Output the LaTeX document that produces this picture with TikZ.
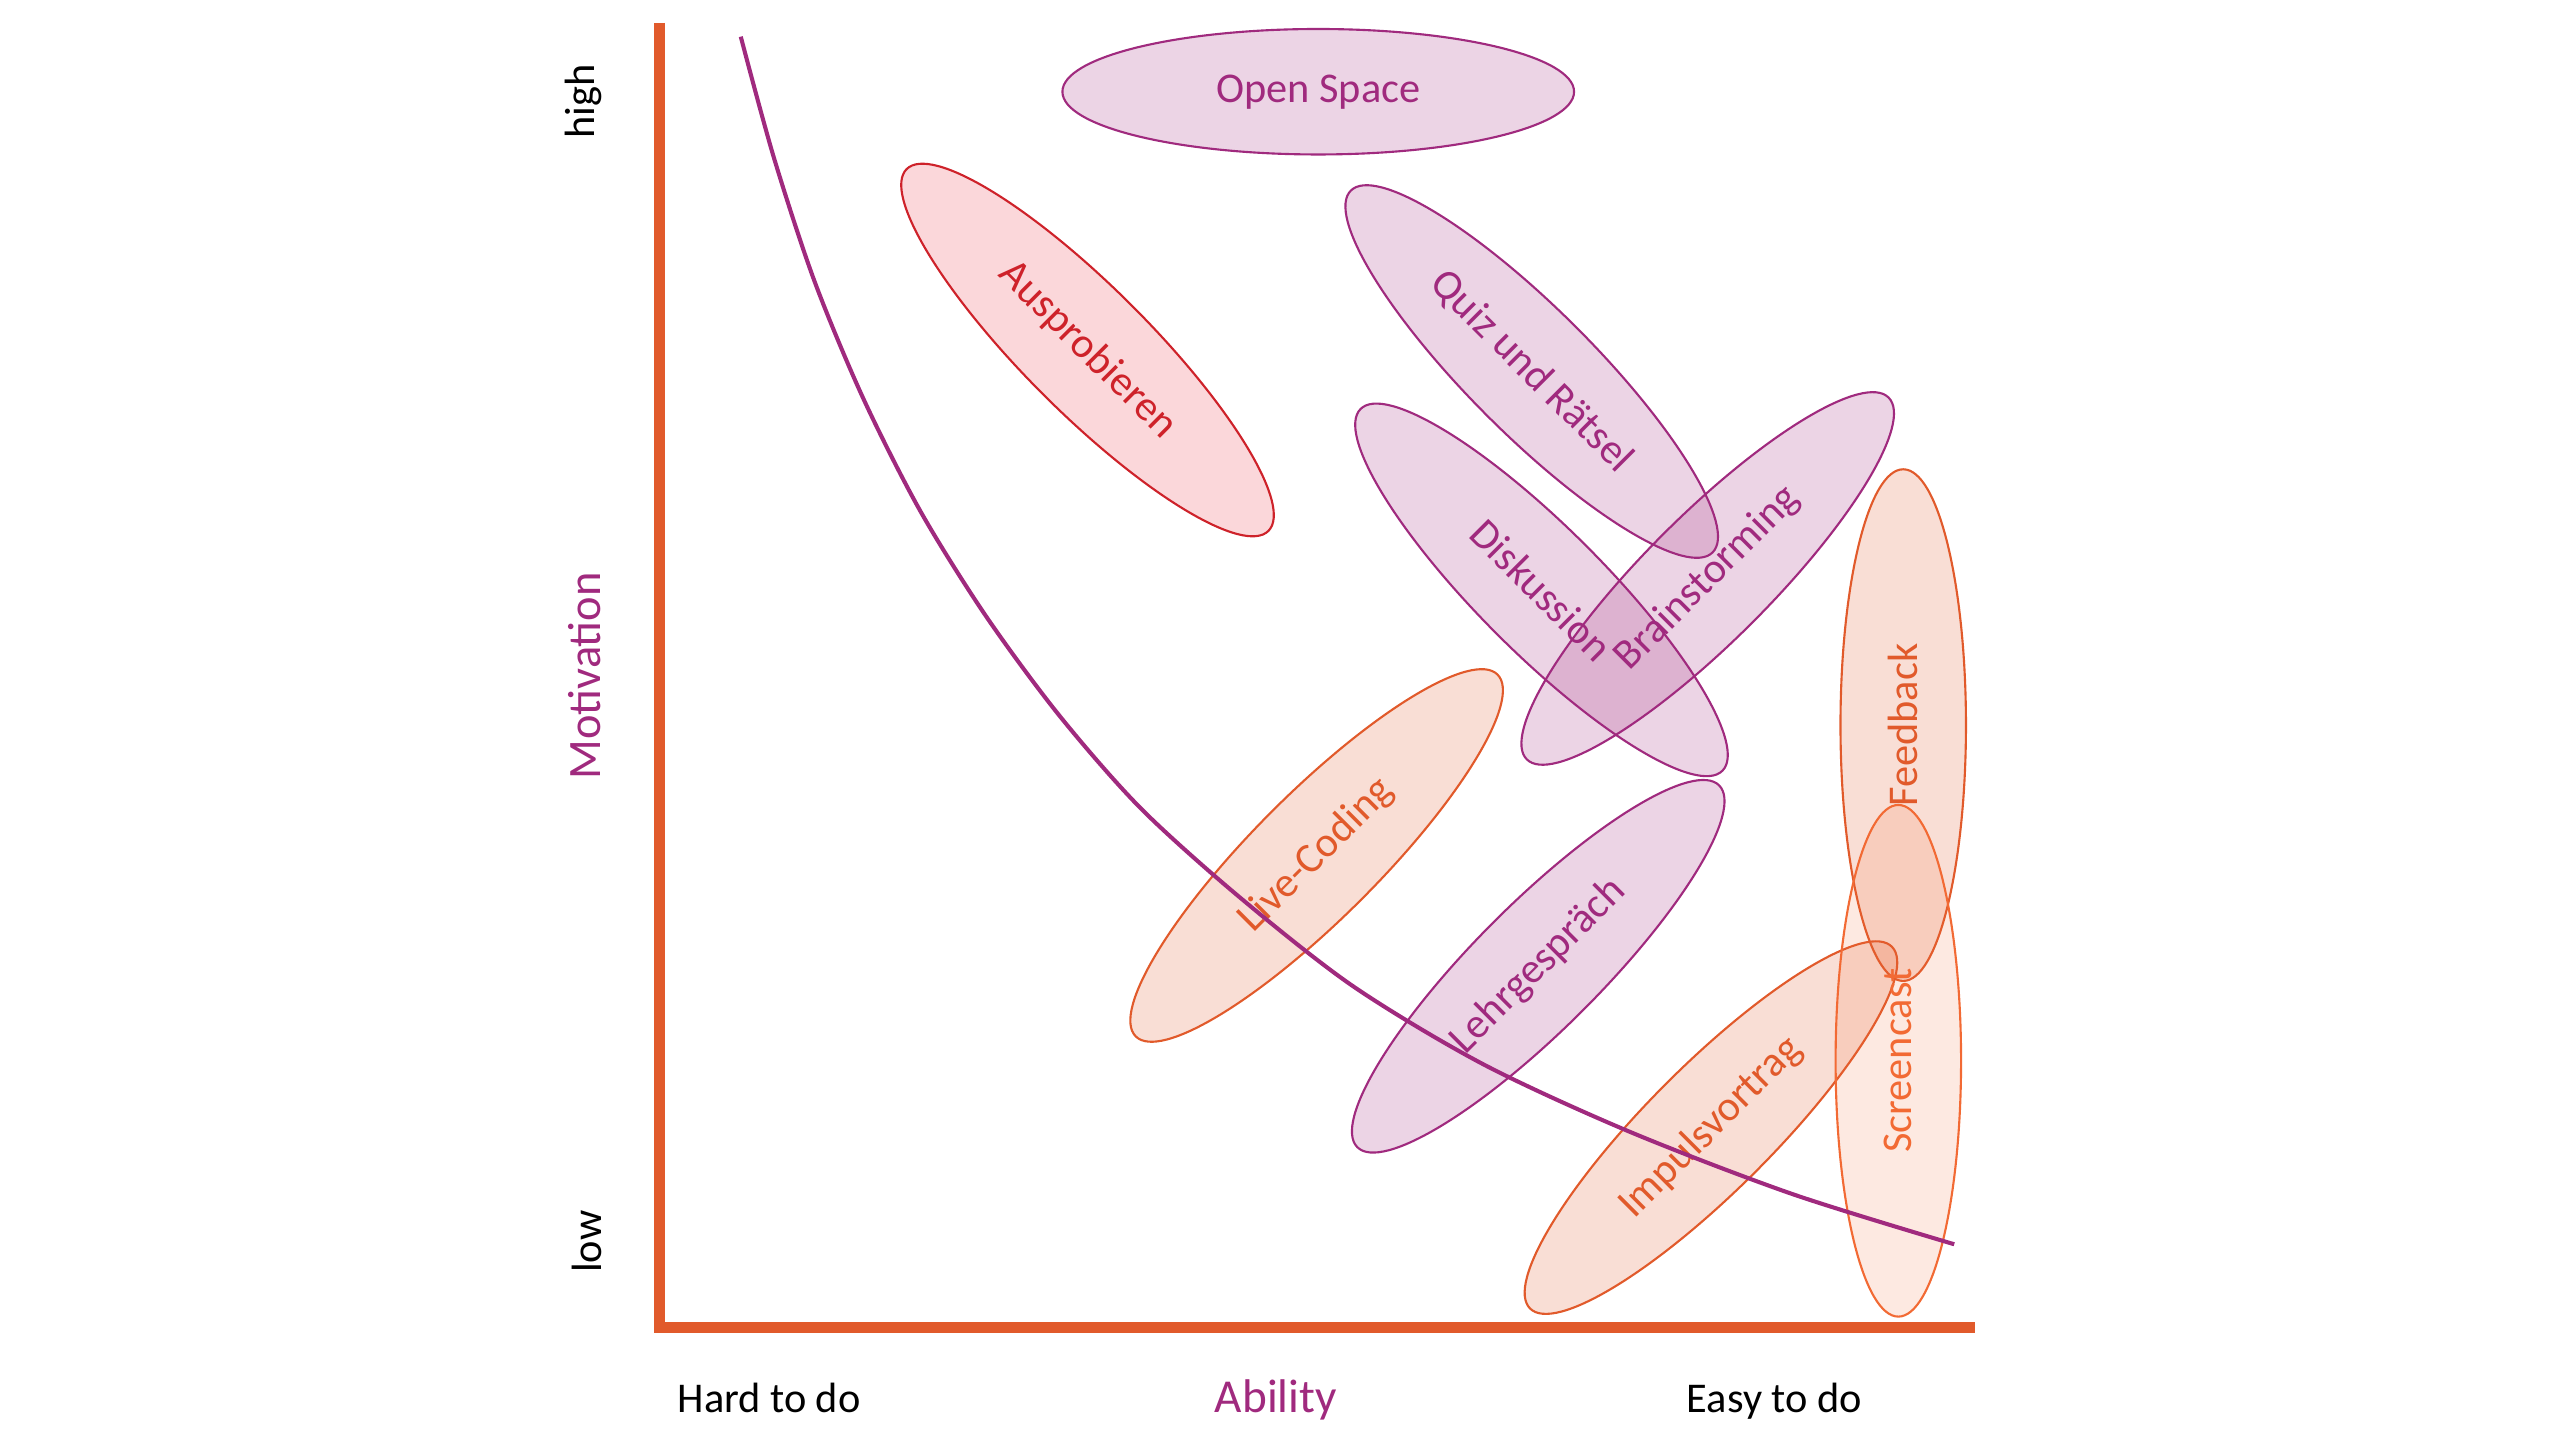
\documentclass[tikz,border=0pt]{standalone}
\usepackage{fontspec}
\setmainfont{Carlito}
\usetikzlibrary{shapes.geometric}
\definecolor{plum}{RGB}{160,42,126}
\definecolor{rust}{RGB}{225,90,43}
\definecolor{signal}{RGB}{206,34,42}
\definecolor{rose}{RGB}{235,55,70}
\definecolor{apricot}{RGB}{242,106,52}
\tikzset{
	blob/.style={ellipse,draw=#1,fill=#1,fill opacity=0.2,text opacity=1,text=#1,
		line width=1.3pt,minimum width=314pt,minimum height=77pt,inner sep=0pt,
		font=\fontsize{26}{30}\selectfont},
	axislabel/.style={font=\fontsize{26}{30}\selectfont}
}
\begin{document}
\begin{tikzpicture}[
		x=1pt,y=-1pt,
		line join=round
		]
		\useasboundingbox (0,0) rectangle (1568,882);
		% axes
		\coordinate (top) at (404.7,14);
		\coordinate (origin) at (404.7,814.6);
		\coordinate (right) at (1212,814.6);
		\draw[rust,line width=6.7pt,line join=miter] (top) -- (origin) -- (right);
		\node[axislabel,rotate=90] (high) at (357.8,62.4) {high};
		\node[axislabel,rotate=90] (low) at (360,762) {low};
		\node[axislabel,rotate=90,text=plum,font=\fontsize{28.5}{32}\selectfont] (motivation) at (359,414.8) {Motivation};
		\node[axislabel,anchor=base] (hard) at (472,867) {Hard to do};
		\node[axislabel,anchor=base,text=plum,font=\fontsize{29}{32}\selectfont] (ability) at (783,867) {Ability};
		\node[axislabel,anchor=base] (easy) at (1089,867) {Easy to do};
		% methods
		\node[blob=plum] (openspace) at (809,56.3) {Open Space};
		\node[blob=signal,fill=rose,rotate=-45] (ausprobieren) at (667.4,214.8) {Ausprobieren};
		\node[blob=plum,rotate=-45] (quiz) at (940,228) {Quiz und Rätsel};
		\node[blob=plum,rotate=-45] (diskussion) at (946,362) {Diskussion};
		\node[blob=plum,rotate=45] (brainstorming) at (1048,355) {Brainstorming};
		\node[blob=rust,rotate=45] (livecoding) at (808,525) {Live-Coding};
		\node[blob=plum,rotate=45] (lehrgespraech) at (944,593) {Lehrgespräch};
		\node[blob=rust,rotate=45] (impulsvortrag) at (1050,692) {Impulsvortrag};
		\node[blob=rust,rotate=90] (feedback) at (1168,445) {Feedback};
		\node[blob=apricot,rotate=90,fill opacity=0.15] (screencast) at (1165,651) {Screencast};
		% action line
		\draw[plum,line width=2.5pt] plot[smooth] coordinates {(454.6,22.5) (475,97) (500,173) (530,245) (565,314) (605,378) (650,439) (700,496) (760,550) (830,605) (910,653) (1000,694.5) (1100,732.8) (1199.3,763.6)};
\end{tikzpicture}
\end{document}
